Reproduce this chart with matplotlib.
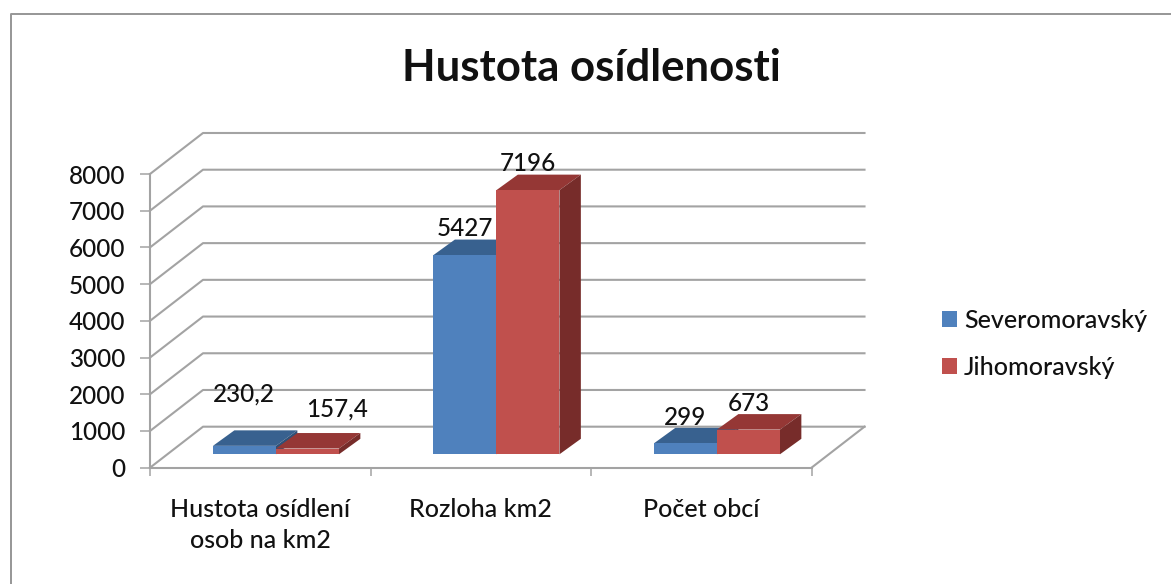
import matplotlib
matplotlib.use("Agg")

import matplotlib.pyplot as plt
from matplotlib.lines import Line2D
from matplotlib.patches import Patch

categories = ["Hustota osídlení\nosob na km2", "Rozloha km2", "Počet obcí"]
series_names = ["Severomoravský", "Jihomoravský"]
severomoravsky = [230.2, 5427, 299]
jihomoravsky = [157.4, 7196, 673]
value_labels = [["230,2", "5427", "299"], ["157,4", "7196", "673"]]
y_ticks = [0, 1000, 2000, 3000, 4000, 5000, 6000, 7000, 8000]

W, H = 1171, 584
GREY = "#a3a3a3"
TEXT = "#111111"

# front, top, side colours of the fake 3d bars
colors = [("#4f81bd", "#38618f", "#2f5178"), ("#c0504d", "#953735", "#772c2a")]

plt.rcParams["font.family"] = ["Lato", "DejaVu Sans"]
plt.rcParams["font.weight"] = "medium"

fig = plt.figure(figsize=(W / 100, H / 100), dpi=100)
ax = fig.add_axes([150 / W, 1 - 467.7 / H, 661.5 / W, 293.7 / H])
ax.set_xlim(-0.5, 2.5)
ax.set_ylim(0, 8000)
ax.patch.set_visible(False)

# depth of the walls and the bars, in data units
wall_dx, wall_dy = 0.2404, 1117
shift_dx, shift_dy = 0.0712, 365
bar_dx, bar_dy = 0.0971, 422
bar_w = 0.2857

# back wall lines and the diagonals going to the front axis
for t in y_ticks:
    ax.plot([-0.5, -0.5 + wall_dx, 2.5 + wall_dx], [t, t + wall_dy, t + wall_dy],
            color=GREY, lw=1.5, clip_on=False, zorder=1)
ax.plot([2.5, 2.5 + wall_dx], [0, wall_dy], color=GREY, lw=1.5, clip_on=False, zorder=1)

# label offsets in px, the first group was moved by hand in the original
label_offsets = [[(-1, 52), (0, 27), (0, 26)], [(30, 39), (0, 27), (0, 26)]]

for s, vals in enumerate([severomoravsky, jihomoravsky]):
    front, top, side = colors[s]
    for i, v in enumerate(vals):
        x0 = i - bar_w + s * bar_w + shift_dx
        x1 = x0 + bar_w
        y0 = shift_dy
        y1 = shift_dy + v
        ax.fill([x0, x1, x1 + bar_dx, x0 + bar_dx], [y1, y1, y1 + bar_dy, y1 + bar_dy],
                color=top, lw=0, clip_on=False, zorder=3)
        ax.fill([x1, x1 + bar_dx, x1 + bar_dx, x1], [y0, y0 + bar_dy, y1 + bar_dy, y1],
                color=side, lw=0, clip_on=False, zorder=3)
        ax.bar(x0, v, bar_w, bottom=y0, align="edge", color=front, lw=0, clip_on=False, zorder=3)
        ox, oy = label_offsets[s][i]
        ax.annotate(value_labels[s][i], ((x0 + x1) / 2, y1), xytext=(ox * 0.72, oy * 0.72),
                    textcoords="offset points", ha="center", va="center",
                    fontsize=17.5, color=TEXT, zorder=5, annotation_clip=False)

for side in ["top", "right"]:
    ax.spines[side].set_visible(False)
for side in ["left", "bottom"]:
    ax.spines[side].set_color(GREY)
    ax.spines[side].set_linewidth(1.5)

ax.set_yticks(y_ticks)
ax.tick_params(axis="y", length=7, width=1.1, color=GREY, pad=11, labelsize=17.5, labelcolor=TEXT)
ax.set_xticks([-0.5, 0.5, 1.5, 2.5])
ax.set_xticklabels([])
ax.tick_params(axis="x", which="major", length=6, width=1.1, color=GREY)
ax.set_xticks([0, 1, 2], minor=True)
ax.set_xticklabels(categories, minor=True, fontsize=18, color=TEXT, linespacing=1.4)
ax.tick_params(axis="x", which="minor", length=0, pad=22)

fig.text(591 / W, 1 - 68 / H, "Hustota osídlenosti", ha="center", va="center",
         fontsize=31.5, fontweight="bold", color="#111111")

handles = [Patch(color=colors[0][0], lw=0), Patch(color=colors[1][0], lw=0)]
fig.legend(handles, series_names, loc="center left", bbox_to_anchor=(942 / W, 1 - 344 / H),
           frameon=False, fontsize=18, labelcolor=TEXT, borderpad=0, borderaxespad=0,
           handlelength=0.6, handleheight=0.6, handletextpad=0.28, labelspacing=0.95)

# outer chart frame, only top and left are inside the picture
fig.add_artist(Line2D([1, 10.5 / W, 10.5 / W], [1 - 14 / H, 1 - 14 / H, 0], color="#969696", lw=1.4))

fig.savefig("out.png", dpi=100)
